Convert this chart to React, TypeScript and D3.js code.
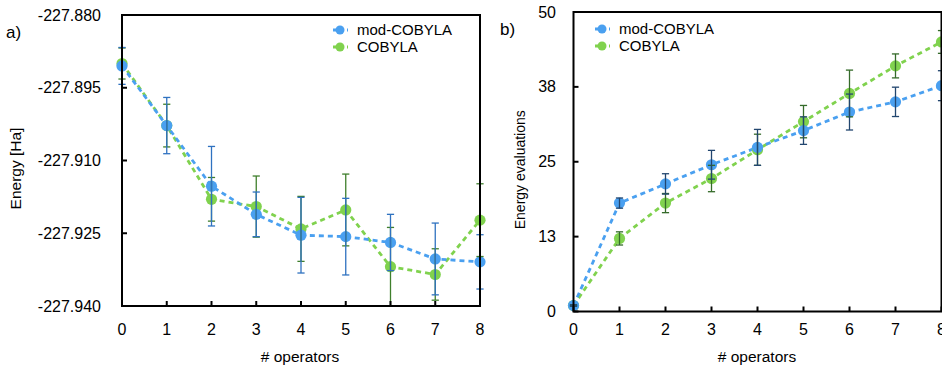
import React from "react";
import * as d3 from "d3";

// ---------- data ----------
const operators = [0, 1, 2, 3, 4, 5, 6, 7, 8];

// Panel a: energy [Ha]
const energyMod = [-227.8905, -227.9028, -227.9153, -227.9211, -227.9254, -227.9257, -227.9269, -227.9303, -227.9309];
const energyModErr = [0.0038, 0.0058, 0.0082, 0.0046, 0.0078, 0.0079, 0.0058, 0.0074, 0.0056];
const energyCob = [-227.8900, -227.9028, -227.9180, -227.9195, -227.9241, -227.9202, -227.9319, -227.9335, -227.9223];
const energyCobErr = [0.0032, 0.0044, 0.0045, 0.0063, 0.0067, 0.0074, 0.0081, 0.0053, 0.0075];

// Panel b: energy evaluations
const evalMod = [1, 18.1, 21.3, 24.5, 27.4, 30.2, 33.3, 35.0, 37.7];
const evalModErr = [0.1, 0.85, 1.7, 2.4, 3.0, 2.3, 3.0, 2.45, 2.5];
const evalCob = [1, 12.2, 18.1, 22.2, 27.0, 31.7, 36.4, 41.0, 45.0];
const evalCobErr = [0.1, 1.1, 1.6, 2.2, 2.6, 2.7, 3.9, 2.0, 1.9];

const energyTicks = [-227.88, -227.895, -227.91, -227.925, -227.94];
const evalTicks = [0, 12.5, 25, 37.5, 50];
const seriesNames = ["mod-COBYLA", "COBYLA"];

// ---------- style ----------
const FONT = "'Liberation Sans', Arial, Helvetica, sans-serif";
const BLUE = "#4aa0f0";
const GREEN = "#80d24e";
const BLUE_ERR_A = "#2f72c0";
const GREEN_ERR_A = "#3f7f2c";
const BLUE_ERR_B = "#22466f";
const GREEN_ERR_B = "#356b2a";

type Series = { name: string; y: number[]; err: number[]; color: string; errColor: string };

function Panel(props: {
  left: number; right: number; top: number; bottom: number;
  domain: [number, number]; ticks: number[]; tickFmt: (v: number) => string;
  series: Series[]; label: string; labelX: number; labelY: number;
  yTitle: string; yTitleX: number; yTitleSize: number; tickLabelX: number;
  legendX: number; legendY: number; xTitleX: number;
}) {
  const x = d3.scaleLinear().domain([0, 8]).range([props.left, props.right]);
  const y = d3.scaleLinear().domain(props.domain).range([props.bottom, props.top]);
  const line = d3.line<number>().x((_, i) => x(operators[i])).y((v) => y(v));
  const cap = 3.6;
  const legendOrder = seriesNames.map((n) => props.series.find((s) => s.name === n)!);
  return (
    <g>
      {/* lines */}
      {props.series.map((s, k) => (
        <path key={"l" + k} d={line(s.y) || ""} fill="none" stroke={s.color}
          strokeWidth={2.8} strokeDasharray="5,4" />
      ))}
      {/* dots */}
      {props.series.map((s, k) => (
        <g key={"d" + k}>
          {s.y.map((v, i) => (
            <circle key={i} cx={x(operators[i])} cy={y(v)} r={5.6} fill={s.color} />
          ))}
        </g>
      ))}
      {/* error bars */}
      {props.series.map((s, k) => (
        <g key={"e" + k} stroke={s.errColor} strokeWidth={1.3}>
          {s.y.map((v, i) => {
            const cx = x(operators[i]);
            const y0 = y(v - s.err[i]);
            const y1 = y(v + s.err[i]);
            return (
              <g key={i}>
                <line x1={cx} x2={cx} y1={y0} y2={y1} />
                <line x1={cx - cap} x2={cx + cap} y1={y0} y2={y0} />
                <line x1={cx - cap} x2={cx + cap} y1={y1} y2={y1} />
              </g>
            );
          })}
        </g>
      ))}
      {/* frame */}
      <rect x={props.left} y={props.top} width={props.right - props.left}
        height={props.bottom - props.top} fill="none" stroke="#000" strokeWidth={2} />
      {/* y ticks */}
      {props.ticks.map((t, i) => (
        <g key={"yt" + i}>
          <line x1={props.left} x2={props.left + 5} y1={y(t)} y2={y(t)} stroke="#000" strokeWidth={2} />
          <text x={props.tickLabelX} y={y(t)} dy="0.35em" textAnchor="end"
            fontSize={16} fontFamily={FONT} fill="#000">{props.tickFmt(t)}</text>
        </g>
      ))}
      {/* x ticks */}
      {operators.map((o) => (
        <g key={"xt" + o}>
          <line x1={x(o)} x2={x(o)} y1={props.bottom} y2={props.bottom - 5} stroke="#000" strokeWidth={2} />
          <text x={x(o)} y={329} dy="0.35em" textAnchor="middle"
            fontSize={16} fontFamily={FONT} fill="#000">{o}</text>
        </g>
      ))}
      <text x={props.xTitleX} y={357} dy="0.35em" textAnchor="middle"
        fontSize={15.5} fontFamily={FONT} fill="#000"># operators</text>
      <text transform={`translate(${props.yTitleX},${(props.top + props.bottom) / 2 + 8}) rotate(-90)`}
        textAnchor="middle" dy="0.35em" fontSize={props.yTitleSize} fontFamily={FONT} fill="#000">{props.yTitle}</text>
      <text x={props.labelX} y={props.labelY} dy="0.35em" fontSize={17} fontFamily={FONT} fill="#000">{props.label}</text>
      {/* legend */}
      {legendOrder.map((s, k) => (
        <g key={"lg" + k}>
          <line x1={props.legendX - 7} x2={props.legendX + 8} y1={props.legendY + k * 17}
            y2={props.legendY + k * 17} stroke={s.color} strokeWidth={2.8} strokeDasharray="4,3" />
          <circle cx={props.legendX} cy={props.legendY + k * 17} r={4.5} fill={s.color} />
          <text x={props.legendX + 17} y={props.legendY + k * 17} dy="0.35em"
            fontSize={15} fontFamily={FONT} fill="#000">{s.name}</text>
        </g>
      ))}
    </g>
  );
}

export default function App() {
  const fmtA = (v: number) => v.toFixed(3);
  const fmtB = (v: number) => String(Math.round(v));
  return (
    <div style={{ position: "absolute", left: 0, top: 0 }}>
      <svg width={942} height={365} style={{ display: "block", background: "#fff" }}>
        <Panel left={122} right={480} top={15} bottom={306}
          domain={[-227.94, -227.88]} ticks={energyTicks} tickFmt={fmtA}
          series={[
            { name: "COBYLA", y: energyCob, err: energyCobErr, color: GREEN, errColor: GREEN_ERR_A },
            { name: "mod-COBYLA", y: energyMod, err: energyModErr, color: BLUE, errColor: BLUE_ERR_A },
          ]}
          label="a)" labelX={6} labelY={32}
          yTitle="Energy [Ha]" yTitleX={16} yTitleSize={15.5}
          tickLabelX={101} legendX={340} legendY={30} xTitleX={300} />
        <Panel left={573.5} right={941.5} top={12} bottom={311.5}
          domain={[0, 50]} ticks={evalTicks} tickFmt={fmtB}
          series={[
            { name: "COBYLA", y: evalCob, err: evalCobErr, color: GREEN, errColor: GREEN_ERR_B },
            { name: "mod-COBYLA", y: evalMod, err: evalModErr, color: BLUE, errColor: BLUE_ERR_B },
          ]}
          label="b)" labelX={500} labelY={29}
          yTitle="Energy evaluations" yTitleX={520} yTitleSize={14}
          tickLabelX={556} legendX={602} legendY={29} xTitleX={757} />
      </svg>
    </div>
  );
}
